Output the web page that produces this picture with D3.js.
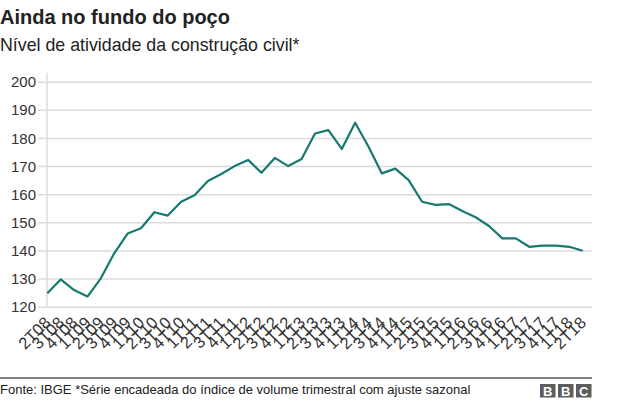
<!DOCTYPE html>
<html><head><meta charset="utf-8">
<script src="https://cdn.jsdelivr.net/npm/d3@7"></script>
<style>
body{margin:0;background:#fff;}
svg{display:block;font-family:"Liberation Sans",Arial,sans-serif;}
</style></head>
<body>
<svg id="c" width="624" height="403"></svg>
<script>
const quarters = ["2T08","3T08","4T08","1T09","2T09","3T09","4T09","1T10","2T10","3T10","4T10",
"1T11","2T11","3T11","4T11","1T12","2T12","3T12","4T12","1T13","2T13","3T13","4T13",
"1T14","2T14","3T14","4T14","1T15","2T15","3T15","4T15","1T16","2T16","3T16","4T16",
"1T17","2T17","3T17","4T17","1T18","2T18"];
const values = [124.8,129.7,125.9,123.6,130.1,139.0,146.0,147.9,153.6,152.4,157.3,
159.6,164.7,167.2,170.0,172.2,167.6,172.9,170.0,172.5,181.6,182.8,176.1,
185.4,176.9,167.4,169.1,165.0,157.3,156.2,156.5,154.0,151.8,148.7,144.3,
144.3,141.3,141.7,141.7,141.3,139.9];
const yTicks = [120,130,140,150,160,170,180,190,200];
const title = "Ainda no fundo do poço";
const subtitle = "Nível de atividade da construção civil*";
const source = "Fonte: IBGE *Série encadeada do índice de volume trimestral com ajuste sazonal";

(function(){
const svg = d3.select("#c");
const pLeft = 47, pRight = 592, pTop = 81.7, pBottom = 306.7;
const x = d3.scalePoint().domain(quarters).range([47.3, 582.7]);
const y = d3.scaleLinear().domain([120,200]).range([pBottom, pTop]);

svg.append("text").attr("x",0).attr("y",24).attr("font-size","20px").attr("font-weight","bold").attr("fill","#222").text(title);
svg.append("text").attr("x",0).attr("y",51).attr("font-size","17.8px").attr("fill","#222").text(subtitle);

// y axis gridlines
const gy = svg.append("g").attr("transform",`translate(${pRight},0)`)
  .call(d3.axisLeft(y).tickValues(yTicks).tickSize(pRight-38).tickPadding(2));
gy.select(".domain").remove();
gy.selectAll(".tick line").attr("stroke","#dcdcdc").attr("stroke-width",1.5);
gy.selectAll(".tick text").attr("font-size","15px").attr("fill","#333").attr("dy","0.34em")
  .attr("font-family","Liberation Sans, Arial, sans-serif");

// vertical axis line
svg.append("line").attr("x1",pLeft).attr("x2",pLeft).attr("y1",72.7).attr("y2",pBottom)
  .attr("stroke","#dcdcdc").attr("stroke-width",1.5);

// x axis
const gx = svg.append("g").attr("transform",`translate(0,${pBottom})`)
  .call(d3.axisBottom(x).tickSize(0).tickPadding(0));
gx.select(".domain").remove();
gx.selectAll(".tick text").attr("font-size","16.5px").attr("fill","#333")
  .attr("font-family","Liberation Sans, Arial, sans-serif")
  .attr("text-anchor","end").attr("dy","0").attr("y",0)
  .attr("transform","translate(4,17) rotate(-45)");

// line
const line = d3.line().x((d,i)=>x(quarters[i])).y(d=>y(d));
svg.append("path").datum(values).attr("d",line).attr("fill","none")
  .attr("stroke","#167a6f").attr("stroke-width",2.2).attr("stroke-linejoin","round");

// footer
svg.append("line").attr("x1",0).attr("x2",592).attr("y1",378).attr("y2",378).attr("stroke","#000").attr("stroke-width",1);
svg.append("text").attr("x",0).attr("y",394).attr("font-size","13px").attr("fill","#222").text(source);
const bbc = svg.append("g");
["B","B","C"].forEach((l,i)=>{
  bbc.append("rect").attr("x",540+i*18).attr("y",384).attr("width",15.5).attr("height",13.5).attr("fill","#5d5d5d");
  bbc.append("text").attr("x",547.75+i*18).attr("y",395.5).attr("text-anchor","middle").attr("font-size","13px")
    .attr("font-weight","bold").attr("fill","#fff").text(l);
});
})();
</script>
</body></html>
